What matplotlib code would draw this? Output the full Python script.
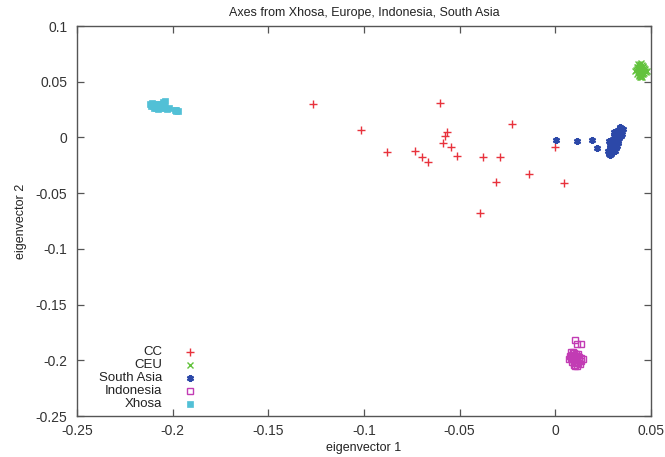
import numpy as np
import matplotlib.pyplot as plt

plt.rcParams['font.family'] = ['Liberation Sans', 'DejaVu Sans']

# ── DATA ─────────────────────────────────────────

cc_x = [-0.1266, -0.1015, -0.0878, -0.0732, -0.0698, -0.0663, -0.0602, -0.0568,
        -0.0575, -0.0589, -0.0545, -0.0512, -0.0379, -0.0289, -0.0228, -0.0311,
        -0.0136, -0.0393, 0.0000, 0.0046]
cc_y = [0.0300, 0.0066, -0.0128, -0.0119, -0.0179, -0.0218, 0.0306, 0.0051,
        0.0013, -0.0047, -0.0083, -0.0167, -0.0179, -0.0179, 0.0120, -0.0398,
        -0.0331, -0.0681, -0.0089, -0.0406]

ceu_x = [0.0430, 0.0438, 0.0445, 0.0452, 0.0460, 0.0425, 0.0433, 0.0441, 0.0449,
         0.0456, 0.0464, 0.0470, 0.0420, 0.0428, 0.0436, 0.0444, 0.0451, 0.0459,
         0.0467, 0.0474, 0.0432, 0.0440, 0.0447, 0.0455, 0.0462, 0.0427, 0.0435,
         0.0443, 0.0450, 0.0458, 0.0437, 0.0446, 0.0453, 0.0441, 0.0448, 0.0414,
         0.0478, 0.0439, 0.0452, 0.0446]
ceu_y = [0.0655, 0.0650, 0.0660, 0.0648, 0.0642, 0.0632, 0.0628, 0.0635, 0.0625,
         0.0630, 0.0622, 0.0615, 0.0605, 0.0610, 0.0600, 0.0608, 0.0598, 0.0603,
         0.0595, 0.0590, 0.0585, 0.0578, 0.0588, 0.0580, 0.0575, 0.0570, 0.0562,
         0.0568, 0.0558, 0.0565, 0.0548, 0.0552, 0.0545, 0.0538, 0.0540, 0.0595,
         0.0600, 0.0618, 0.0572, 0.0665]

sa_x = [0.0004, 0.0115, 0.0190, 0.0220,
        0.0338, 0.0345, 0.0330, 0.0352, 0.0325, 0.0340, 0.0318, 0.0333, 0.0348,
        0.0312, 0.0326, 0.0341, 0.0305, 0.0320, 0.0335, 0.0300, 0.0315, 0.0330,
        0.0296, 0.0310, 0.0325, 0.0292, 0.0306, 0.0320, 0.0288, 0.0302, 0.0316,
        0.0285, 0.0298, 0.0312, 0.0282, 0.0295, 0.0280, 0.0292, 0.0278, 0.0288,
        0.0275, 0.0285, 0.0280, 0.0305, 0.0298]
sa_y = [-0.0023, -0.0035, -0.0023, -0.0092,
        0.0091, 0.0085, 0.0070, 0.0075, 0.0060, 0.0055, 0.0045, 0.0040, 0.0030,
        0.0030, 0.0020, 0.0010, 0.0012, 0.0002, -0.0008, -0.0010, -0.0020, -0.0030,
        -0.0035, -0.0045, -0.0050, -0.0060, -0.0068, -0.0075, -0.0085, -0.0092,
        -0.0098, -0.0105, -0.0112, -0.0118, -0.0125, -0.0132, -0.0140, -0.0145,
        -0.0152, -0.0158, -0.0120, -0.0070, -0.0030, 0.0050, -0.0110]

ind_x = [0.0103, 0.0115, 0.0135,
         0.0080, 0.0090, 0.0100, 0.0110, 0.0120, 0.0075, 0.0085, 0.0095, 0.0105,
         0.0115, 0.0125, 0.0135, 0.0070, 0.0082, 0.0092, 0.0102, 0.0112, 0.0122,
         0.0132, 0.0088, 0.0098, 0.0108, 0.0118, 0.0128, 0.0095, 0.0105, 0.0115,
         0.0142]
ind_y = [-0.1819, -0.1855, -0.1855,
         -0.1930, -0.1928, -0.1935, -0.1940, -0.1945, -0.1960, -0.1955, -0.1962,
         -0.1958, -0.1965, -0.1970, -0.1975, -0.1985, -0.1982, -0.1990, -0.1988,
         -0.1995, -0.2000, -0.2005, -0.2015, -0.2020, -0.2018, -0.2025, -0.2030,
         -0.2045, -0.2050, -0.2055, -0.1990]

xh_x = [-0.2118, -0.2110, -0.2102, -0.2094, -0.2086, -0.2078, -0.2070, -0.2062,
        -0.2115, -0.2105, -0.2095, -0.2085, -0.2075, -0.2065, -0.2055, -0.2045,
        -0.2100, -0.2088, -0.2076, -0.2064, -0.2050, -0.2040, -0.2030, -0.2020,
        -0.2052, -0.2040, -0.1990, -0.1980, -0.1970, -0.1985]
xh_y = [0.0300, 0.0305, 0.0298, 0.0302, 0.0295, 0.0300, 0.0292, 0.0298,
        0.0285, 0.0280, 0.0288, 0.0278, 0.0284, 0.0276, 0.0282, 0.0290,
        0.0268, 0.0262, 0.0255, 0.0260, 0.0270, 0.0265, 0.0258, 0.0262,
        0.0320, 0.0325, 0.0245, 0.0240, 0.0238, 0.0248]

names = ["CC", "CEU", "South Asia", "Indonesia", "Xhosa"]
x_ticks = [-0.25, -0.2, -0.15, -0.1, -0.05, 0, 0.05]
y_ticks = [0.1, 0.05, 0, -0.05, -0.1, -0.15, -0.2, -0.25]

# ── STYLES ─────────────────────────────────────────

styles = [
    dict(marker="+", color="#e8323c", ms=6, mew=1.0, mfc="none", ls="none"),
    dict(marker="x", color="#62c23c", ms=4.5, mew=1.0, mfc="none", ls="none"),
    dict(marker=(6, 2, 0), color="#2c48a8", ms=5, mew=1.6, ls="none"),
    dict(marker="s", color="#c23cb4", ms=5, mew=1.0, mfc="none", ls="none"),
    dict(marker="s", color="#52c0d6", ms=5, mew=0.5, ls="none"),
]

# ── PLOT ──────────────────────────────────────────

fig = plt.figure(figsize=(6.65, 4.57), dpi=100)
ax = fig.add_axes([77 / 665, 1 - 416 / 457, 574 / 665, 390 / 457])

series = [(cc_x, cc_y), (ceu_x, ceu_y), (sa_x, sa_y), (ind_x, ind_y), (xh_x, xh_y)]
for (xs, ys), st in zip(series, styles):
    ax.plot(xs, ys, **st)

ax.set_xlim(-0.25, 0.05)
ax.set_ylim(-0.25, 0.1)
ax.set_xticks(x_ticks)
ax.set_yticks(y_ticks)
ax.set_xticklabels(["%g" % v for v in x_ticks], fontsize=10, color="#333333")
ax.set_yticklabels(["%g" % v for v in y_ticks], fontsize=10, color="#333333")
ax.tick_params(direction="in", top=True, right=True, length=5, width=0.9,
               color="#555555")
ax.tick_params(axis="x", pad=6)
ax.tick_params(axis="y", pad=7)
for s in ax.spines.values():
    s.set_color("#555555")
    s.set_linewidth(1.0)

ax.set_title("Axes from Xhosa, Europe, Indonesia, South Asia", fontsize=9, pad=7,
             color="#222222")
ax.set_xlabel("eigenvector 1", fontsize=9, labelpad=3, color="#222222")
ax.set_ylabel("eigenvector 2", fontsize=9, labelpad=6, color="#222222")

# legend, gnuplot style: labels right-aligned, sample to the right
row_y = [0.164, 0.131, 0.097, 0.064, 0.031]
for name, st, yy in zip(names, styles, row_y):
    ax.text(0.149, yy, name, transform=ax.transAxes, ha="right", va="center",
            fontsize=9.5, color="#222222")
    ax.plot([0.197], [yy], transform=ax.transAxes, clip_on=False, **st)

fig.savefig("out.png", dpi=100)
